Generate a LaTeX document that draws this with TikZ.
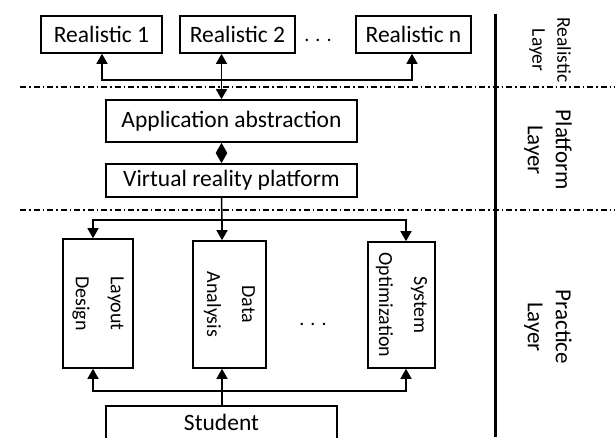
\documentclass[tikz,border=0pt]{standalone}
\usepackage{fontspec}
\setmainfont{Carlito}
\usetikzlibrary{arrows.meta,calc,positioning}

\tikzset{
  box/.style={draw, line width=1.6pt, inner sep=0pt, align=center,
    font=\fontsize{23.5}{28}\selectfont},
  vbox/.style={box, rotate=-90, font=\fontsize{20}{35}\selectfont},
  conn/.style={line width=1.5pt, {Triangle[width=11pt,length=10pt]}-{Triangle[width=11pt,length=10pt]}},
  fwd/.style={line width=1.5pt, -{Triangle[width=11pt,length=10pt]}},
  sep/.style={line width=1.2pt, dash pattern=on 6pt off 3pt on 1.5pt off 3pt},
  layer/.style={rotate=-90, align=center, font=\fontsize{23}{28}\selectfont}
}

\begin{document}
\begin{tikzpicture}[x=1pt,y=-1pt]
\useasboundingbox (0,0) rectangle (615,437);

% realistic layer
\node (r1) [box, minimum width=121, minimum height=37] at (101.5,34.5) {Realistic 1};
\node (r2) [box, minimum width=115, minimum height=37] at (237.5,34.5) {Realistic 2};
\node (rdots) at (318,40) {\fontsize{20}{24}\selectfont . . .};
\node (rn) [box, minimum width=115, minimum height=37] at (413.5,34.5) {Realistic n};

% platform layer
\node (app) [box, minimum width=251, minimum height=42] at (231.5,121) {Application abstraction};
\node (vr) [box, minimum width=251, minimum height=33] at (231.5,180.5) {Virtual reality platform};

% practice layer (rotated: west = top, east = bottom)
\node (lay) [vbox, minimum width=129, minimum height=70] at (98,303.5) {Layout\\Design};
\node (dat) [vbox, minimum width=127, minimum height=73] at (229.5,304.5) {Data\\Analysis};
\node (pdots) at (313,324) {\fontsize{20}{24}\selectfont . . .};
\node (sys) [vbox, minimum width=126, minimum height=67] at (401.5,305) {System\\Optimization};
\node (stu) [box, minimum width=231, minimum height=38, text depth=6pt] at (221.5,425) {Student};

% junctions
\coordinate (tl) at (102,80);
\coordinate (tm) at (221.5,80);
\coordinate (tr) at (412,80);
\coordinate (pl) at (93,220);
\coordinate (pm) at (222,220);
\coordinate (pr) at (406,220);
\coordinate (bl) at (93,391);
\coordinate (bm) at (222,391);
\coordinate (br) at (406,391);

\draw[conn] (tl |- r1.south) -- (tl) -- (tr) -- (tr |- rn.south);
\draw[conn] (tm |- r2.south) -- (tm |- app.north);
\draw[conn] (tm |- app.south) -- (tm |- vr.north);

\draw[line width=1.5pt] (tm |- vr.south) -- (pm);
\draw[conn] (pl |- lay.west) -- (pl) -- (pr) -- (pr |- sys.west);
\draw[fwd] (pm) -- (pm |- dat.west);

\draw[conn] (bl |- lay.east) -- (bl) -- (br) -- (br |- sys.east);
\draw[fwd] (bm |- stu.north) -- (bm |- dat.east);

% layer separators
\draw[sep] (20,87) -- (615,87);
\draw[sep] (20,210) -- (615,210);
\draw[line width=3pt] (495,14) -- (495,437);

\node (lr) [layer, font=\fontsize{19.5}{25}\selectfont] at (550,50) {Realistic\\Layer};
\node (lp) [layer] at (548,150) {Platform\\Layer};
\node (lq) [layer] at (548,327) {Practice\\Layer};
\end{tikzpicture}
\end{document}
